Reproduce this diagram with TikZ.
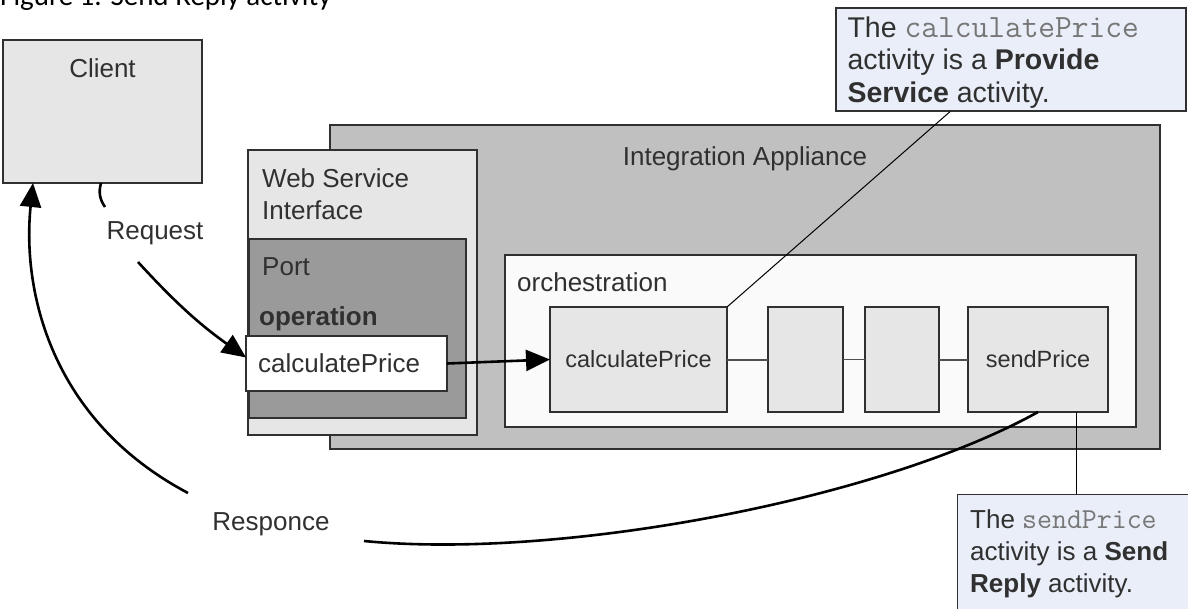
\documentclass[tikz,border=0pt]{standalone}
\usepackage{fontspec}
\setmainfont{Liberation Sans}
\newfontfamily\capfont{Carlito}
\usepackage{xcolor}
\usetikzlibrary{arrows.meta,positioning}

\definecolor{boxgray}{HTML}{E6E6E6}
\definecolor{appgray}{HTML}{C0C0C0}
\definecolor{portgray}{HTML}{9A9A9A}
\definecolor{notefill}{HTML}{E9EEF8}
\definecolor{inkgray}{HTML}{303030}
\definecolor{codegray}{HTML}{777777}

\newcommand{\code}[2][29]{{\ttfamily\fontsize{#1}{32}\selectfont\color{codegray}#2}}

\begin{document}
\begin{tikzpicture}[x=1pt,y=-1pt,
        box/.style={draw=inkgray,line width=1.3pt,fill=boxgray,inner sep=0pt,outer sep=0pt},
        lbl/.style={text=inkgray,inner sep=0pt,align=left,font=\fontsize{26}{32}\selectfont},
        small/.style={text=inkgray,font=\fontsize{23.5}{28}\selectfont},
        note/.style={draw=inkgray,line width=1.3pt,fill=notefill,inner sep=0pt},
        arrow/.style={-{Triangle[length=24pt,width=21pt]},line width=2.6pt},
        conn/.style={line width=2.6pt},
        link/.style={draw=inkgray!85,line width=2pt},
        leader/.style={line width=1pt}
    ]
        \useasboundingbox (0,0) rectangle (1188,609);
        \clip (0,0) rectangle (1188,609);

        \node[anchor=base west,inner sep=0pt,font=\capfont\fontsize{29}{34}\selectfont] (caption) at (0,6) {Figure 1. Send Reply activity};

        % client and appliance
        \node[box,minimum width=199,minimum height=143] (client) at (102.5,111.5) {};
        \node[lbl,below=18pt of client.north] (clientlbl) {Client};
        \node[box,fill=appgray,minimum width=830,minimum height=324] (appliance) at (745,287) {};
        \node[lbl,below=21pt of appliance.north] (applbl) {Integration Appliance};

        % web service interface
        \node[box,minimum width=229,minimum height=285] (wsi) at (362.5,292.5) {};
        \node[lbl,below right=18pt and 14pt of wsi.north west] (wsilbl) {Web Service\\Interface};
        \node[box,fill=portgray,minimum width=217,minimum height=179] (port) at (357.5,328.5) {};
        \node[lbl,below right=18pt and 13pt of port.north west] (portlbl) {Port};
        \node[lbl,font=\fontsize{26}{32}\selectfont\bfseries,below right=67pt and 10pt of port.north west] (oplbl) {operation};
        \node[box,fill=white,minimum width=201,minimum height=55] (wcalc) at (346.5,363.5) {};
        \node[lbl,right=12pt of wcalc.west] (wcalclbl) {calculatePrice};

        % orchestration
        \node[box,fill=white!98!black,minimum width=631,minimum height=172] (orch) at (820.5,341) {};
        \node[lbl,below right=17pt and 12pt of orch.north west] (orchlbl) {orchestration};
        \node[box,small,minimum width=177,minimum height=105] (ocalc) at (638.5,359.5) {calculatePrice};
        \node[box,minimum width=75,minimum height=105] (stepa) at (805.5,359.5) {};
        \node[box,minimum width=74,minimum height=105] (stepb) at (902,359.5) {};
        \node[box,small,minimum width=140,minimum height=105] (sendprice) at (1038,359.5) {sendPrice};

        \draw[link] (ocalc) -- (stepa);
        \draw[link,line width=1.3pt] (stepa) -- (stepb);
        \draw[link] (stepb) -- (sendprice);

        % notes
        \node[note,minimum width=350,minimum height=103] (noteprov) at (1011,59.5) {};
        \node[lbl,font=\fontsize{28.5}{32.5}\selectfont,below right=9pt and 12pt of noteprov.north west] (provtext) {The \code[32.5]{calculatePrice}\\activity is a \textbf{Provide}\\\textbf{Service} activity.};
        \node[note,minimum width=260,minimum height=140,anchor=north west] (notesend) at (957,494) {};
        \node[lbl,below right=15pt and 13pt of notesend.north west] (sendtext) {The \code{sendPrice}\\activity is a \textbf{Send}\\\textbf{Reply} activity.};

        \draw[leader] (ocalc.north east) -- ([xshift=-61pt]noteprov.south);
        \draw[leader] ([xshift=38pt]sendprice.south) -- ([xshift=38pt]sendprice.south |- notesend.north);

        % request and response
        \coordinate (clientout) at ([xshift=98pt]client.south west);
        \coordinate (clientin) at ([xshift=30pt]client.south west);
        \coordinate (reqend) at (105,207);
        \coordinate (reqstart) at (138,262);
        \coordinate (respa) at (364,541);
        \coordinate (respb) at (188,493);

        \draw[conn] (clientout) to[bend right=25] (reqend);
        \node[lbl] (request) at (155,233) {Request};
        \draw[arrow] (reqstart) to[bend right=6] ([yshift=6pt]wcalc.west);
        \draw[arrow] (wcalc.east) -- (ocalc.west);

        \draw[conn] (sendprice.south) .. controls (880,500) and (560,560) .. (respa);
        \node[lbl] (response) at (271,524) {Responce};
        \draw[arrow] (respb) .. controls (50,420) and (22,290) .. (clientin);
    \end{tikzpicture}
\end{document}
